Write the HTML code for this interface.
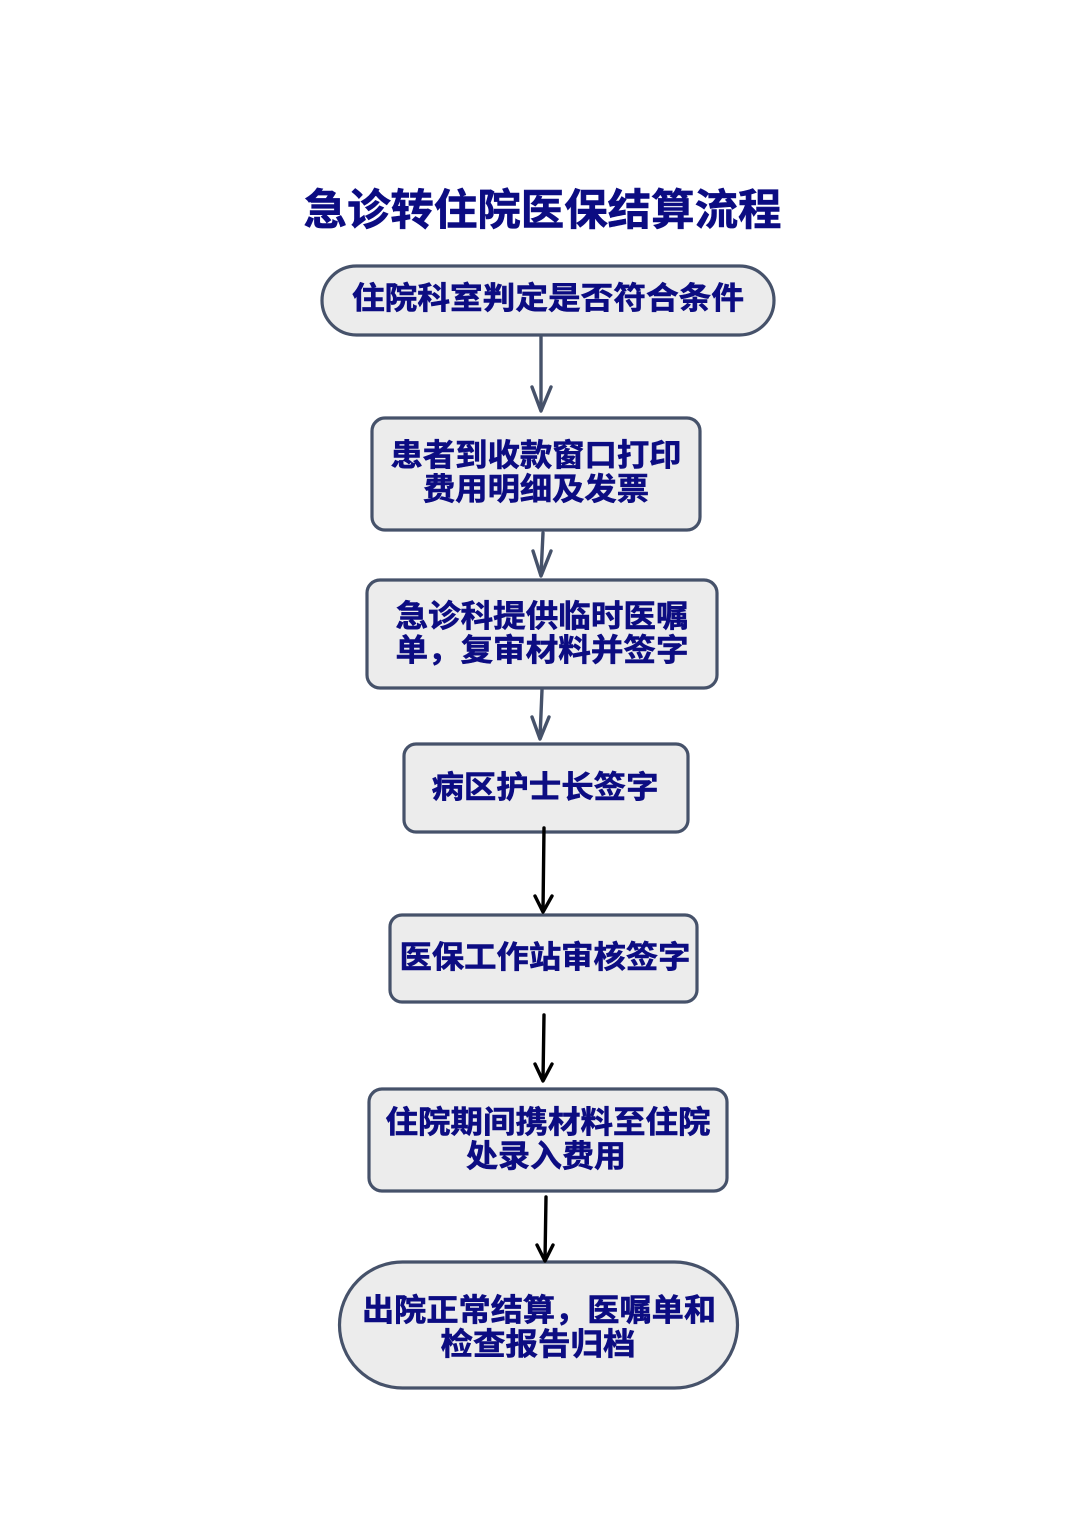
<!DOCTYPE html>
<html>
<head>
<meta charset="utf-8">
<style>
html,body{margin:0;padding:0;background:#fff;}
svg{display:block;}
text{font-family:"Liberation Sans","Noto Sans CJK SC",sans-serif;font-weight:bold;fill:#0c0c82;stroke:#0c0c82;stroke-width:0.6;}
</style>
</head>
<body>
<svg width="1074" height="1520" viewBox="0 0 1074 1520" xmlns="http://www.w3.org/2000/svg">
<rect width="1074" height="1520" fill="#fff"/>

<!-- Title -->
<text x="542.5" y="225" font-size="43" text-anchor="middle" textLength="478" lengthAdjust="spacingAndGlyphs">急诊转住院医保结算流程</text>

<g fill="#ececec" stroke="#46526a" stroke-width="3.2">
  <rect x="322" y="266" width="452" height="69" rx="34.5" ry="34.5"/>
  <rect x="372" y="418" width="328" height="112" rx="13" ry="13"/>
  <rect x="367" y="580" width="350" height="108" rx="13" ry="13"/>
  <rect x="404" y="744" width="284" height="88" rx="12" ry="12"/>
  <rect x="390" y="915" width="307" height="87" rx="12" ry="12"/>
  <rect x="369" y="1089" width="358" height="102" rx="13" ry="13"/>
  <rect x="339.5" y="1262" width="398" height="126" rx="63" ry="63"/>
</g>

<!-- gray arrows -->
<g stroke="#46526a" stroke-width="3.4" fill="none" stroke-linecap="round" stroke-linejoin="round">
  <line x1="541" y1="337" x2="541" y2="410"/>
  <polyline points="532,387 541,411 551,387"/>
  <line x1="543" y1="533" x2="541" y2="575"/>
  <polyline points="533,551 541,576 551,551"/>
  <line x1="542" y1="690" x2="540" y2="738"/>
  <polyline points="532,717 540,739 549,717"/>
</g>
<!-- black arrows -->
<g stroke="#000" stroke-width="3.4" fill="none" stroke-linecap="round" stroke-linejoin="round">
  <line x1="544" y1="828" x2="543" y2="911"/>
  <polyline points="535,896 543,912 552,896"/>
  <line x1="544" y1="1015" x2="543" y2="1080"/>
  <polyline points="535,1064 543,1081 552,1064"/>
  <line x1="546" y1="1197" x2="545" y2="1260"/>
  <polyline points="537,1245 545,1261 553,1245"/>
</g>

<!-- Box texts -->
<text x="548" y="309" font-size="31" text-anchor="middle" textLength="392" lengthAdjust="spacingAndGlyphs">住院科室判定是否符合条件</text>

<text x="536" y="466" font-size="31" text-anchor="middle" textLength="291" lengthAdjust="spacingAndGlyphs">患者到收款窗口打印</text>
<text x="536" y="500" font-size="31" text-anchor="middle" textLength="226" lengthAdjust="spacingAndGlyphs">费用明细及发票</text>

<text x="542" y="627" font-size="31" text-anchor="middle" textLength="293" lengthAdjust="spacingAndGlyphs">急诊科提供临时医嘱</text>
<text x="542" y="661" font-size="31" text-anchor="middle" textLength="293" lengthAdjust="spacingAndGlyphs">单，复审材料并签字</text>

<text x="545" y="798" font-size="31" text-anchor="middle" textLength="227" lengthAdjust="spacingAndGlyphs">病区护士长签字</text>

<text x="545" y="968" font-size="31" text-anchor="middle" textLength="291" lengthAdjust="spacingAndGlyphs">医保工作站审核签字</text>

<text x="548" y="1133" font-size="31" text-anchor="middle" textLength="325" lengthAdjust="spacingAndGlyphs">住院期间携材料至住院</text>
<text x="546" y="1167" font-size="31" text-anchor="middle" textLength="160" lengthAdjust="spacingAndGlyphs">处录入费用</text>

<text x="539" y="1321" font-size="31" text-anchor="middle" textLength="354" lengthAdjust="spacingAndGlyphs">出院正常结算，医嘱单和</text>
<text x="538" y="1355" font-size="31" text-anchor="middle" textLength="195" lengthAdjust="spacingAndGlyphs">检查报告归档</text>
</svg>
</body>
</html>
